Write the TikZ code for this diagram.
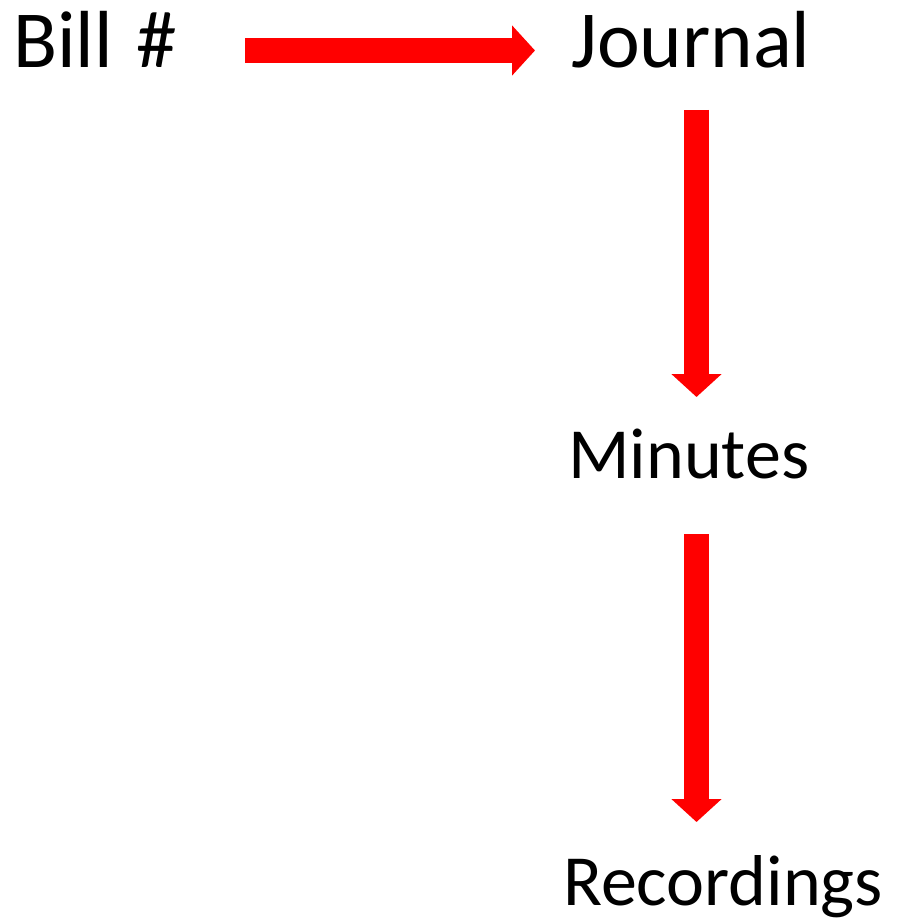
\documentclass[tikz,border=0pt]{standalone}
\usepackage{fontspec}
\setmainfont{Carlito}
\usetikzlibrary{arrows.meta}
\begin{document}
\begin{tikzpicture}[x=1pt,y=1pt,
  lbl/.style={inner sep=0pt,anchor=base west,text=black},
  big/.style={lbl,font=\fontsize{81}{96}\selectfont},
  mid/.style={lbl,font=\fontsize{72}{85}\selectfont},
  redarrow/.style={draw=red,line width=25pt,-{Triangle[width=49pt,length=23pt]}}]
\useasboundingbox (0,0) rectangle (897,-923);
\node[big] (bill) at (13,-68) {Bill\hspace{0.29em}\#};
\node[big] (journal) at (571,-68) {Journal};
\node[mid] (minutes) at (568,-478) {Minutes};
\node[mid] (recordings) at (563,-905) {Recordings};
\coordinate (a1s) at (245,-50.5);
\coordinate (a1e) at (535,-50.5);
\coordinate (a2s) at (696.5,-110);
\coordinate (a2e) at (696.5,-397);
\coordinate (a3s) at (696.5,-534);
\coordinate (a3e) at (696.5,-822);
\draw[redarrow] (a1s) -- (a1e);
\draw[redarrow] (a2s) -- (a2e);
\draw[redarrow] (a3s) -- (a3e);
\end{tikzpicture}
\end{document}
